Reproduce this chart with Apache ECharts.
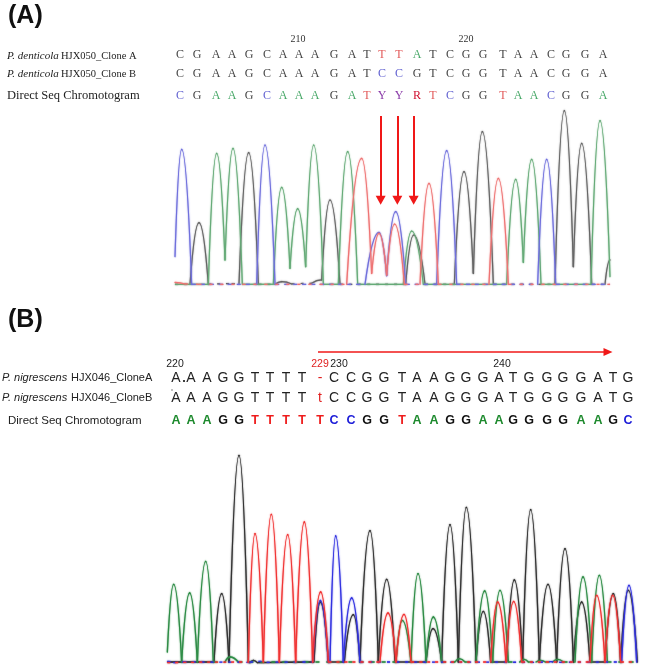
<!DOCTYPE html>
<html><head><meta charset="utf-8">
<style>html,body{margin:0;padding:0;background:#fff}#c{width:651px;height:665px}</style>
<script src="https://cdn.jsdelivr.net/npm/echarts@6/dist/echarts.min.js"></script>
</head><body><div id="c"></div>
<script>
// Panel A traces: [scan, signal] feet and crests
var blueA=[[30,83],[50,405],[80,0],[275,0],[300,418],[330,0],[600,0],[642,156],[665,26],[692,218],[722,0],[815,0],[845,401],[875,0],[1118,0],[1145,375],[1172,0],[1335,0]];
var blackA=[[30,0],[75,0],[102,185],[130,0],[200,2],[222,0],[251,395],[280,0],[330,0],[350,8],[380,1],[440,3],[470,13],[495,253],[525,0],[722,0],[746,148],[780,0],[868,0],[897,338],[925,33],[952,458],[985,0],[1170,0],[1198,521],[1225,53],[1250,423],[1280,0],[1320,0],[1335,73]];
var redA=[[30,6],[60,1],[100,0],[545,0],[590,378],[620,33],[642,153],[665,28],[689,181],[718,0],[765,0],[792,303],[820,0],[972,0],[1000,318],[1030,0],[1335,0]];
var greenA=[[30,0],[130,0],[155,393],[180,73],[204,408],[232,0],[325,0],[350,291],[375,48],[398,227],[422,53],[446,418],[475,0],[520,0],[548,398],[578,0],[715,0],[740,160],[775,0],[1025,0],[1052,315],[1075,66],[1100,375],[1128,0],[1278,0],[1305,491],[1335,23]];
// Panel B traces: [scan, signal]
var greenB=[[22,33],[41,236],[65,3],[89,210],[112,3],[137,305],[160,3],[195,3],[210,18],[235,3],[708,3],[727,128],[753,3],[774,268],[798,3],[820,138],[845,3],[885,3],[898,13],[915,3],[948,3],[974,216],[998,3],[1020,218],[1045,3],[1080,3],[1092,11],[1105,3],[1128,3],[1142,8],[1156,3],[1178,3],[1193,11],[1210,3],[1245,3],[1269,258],[1295,3],[1318,263],[1342,3],[1430,3]];
var blackB=[[22,3],[162,3],[185,208],[207,3],[237,623],[265,3],[270,1],[280,8],[292,1],[462,3],[481,183],[505,3],[553,3],[580,145],[600,3],[630,397],[655,3],[680,251],[705,3],[798,3],[819,103],[845,3],[870,415],[895,3],[919,467],[948,3],[970,155],[992,3],[1040,3],[1063,249],[1088,3],[1112,460],[1138,3],[1164,236],[1190,3],[1215,343],[1240,3],[1265,183],[1290,3],[1335,3],[1360,208],[1382,3],[1405,218],[1432,3]];
var redB=[[22,1],[265,3],[285,388],[310,3],[334,446],[358,3],[383,385],[407,3],[433,423],[458,3],[482,213],[505,3],[660,3],[684,150],[708,3],[732,146],[753,3],[992,3],[1013,183],[1038,3],[1061,185],[1085,3],[1290,3],[1310,203],[1335,3],[1358,203],[1382,3],[1430,3]];
var blueB=[[22,5],[40,1],[70,3],[270,2],[295,5],[320,2],[458,3],[481,188],[505,3],[510,3],[527,381],[550,3],[575,195],[600,3],[1140,2],[1170,4],[1200,2],[1385,3],[1407,233],[1430,3]];
// Sequence text
var seqA1='CGAAGCAAAGATTTATCGGTAACGGA';
var seqA2='CGAAGCAAAGATCCGTCGGTAACGGA';
var seqA3='CGAAGCAAAGATYYRTCGGTAACGGA';
var seqB1='AAAGGTTTT-CCGGTAAGGGATGGGGATG';
var seqB2='AAAGGTTTTtCCGGTAAGGGATGGGGATG';
var seqB3='AAAGGTTTTTCCGGTAAGGAAGGGGAAGC';
var labelsA=['HJX050_Clone A','HJX050_Clone B','Direct Seq Chromotogram'];
var labelsB=['HJX046_CloneA','HJX046_CloneB','Direct Seq Chromotogram'];
// Layout of the text
var xsA=[180,197,216,232,249,267,283,299,315,334,352,367,382,399,417,433,450,466,483,503,518,534,551,566,585,603];
var xsB=[176,191,207,223,239,255,270,286,302,320,334,351,367,384,402,417,434,450,466,483,499,513,529,547,563,581,598,613,628];
var colA={C:'#5f5fd0',G:'#444',A:'#48a868',T:'#e25a5a',Y:'#8a3aa8',R:'#d01030'};
var colB={A:'#1e8a2e',G:'#111',T:'#ee1c1c',C:'#1c1cd8'};
var g=[];
function t(x,y,s,f,c,extra){var st={x:x,y:y,text:s,font:f,fill:c,textAlign:'left',textVerticalAlign:'middle'};
  if(extra)for(var k in extra)st[k]=extra[k];g.push({type:'text',silent:true,z:10,style:st});}
function row(seq,xs,y,font,colorFn){for(var i=0;i<seq.length;i++){t(xs[i],y,seq[i],font,colorFn(seq[i],i),{textAlign:'center'});}}
var sA='12px "Liberation Serif"',sB='14px "Liberation Sans"';
t(8,16,'(A)','bold 25px "Liberation Sans"','#111');
t(8,320,'(B)','bold 25px "Liberation Sans"','#111');
t(298,39,'210','10px "Liberation Serif"','#333',{textAlign:'center'});
t(466,39,'220','10px "Liberation Serif"','#333',{textAlign:'center'});
t(7,56,'P. denticola','italic 11px "Liberation Serif"','#222');
t(61,56,labelsA[0],'10.5px "Liberation Serif"','#222');
t(7,74,'P. denticola','italic 11px "Liberation Serif"','#222');
t(61,74,labelsA[1],'10.5px "Liberation Serif"','#222');
t(7,96,labelsA[2],'12.5px "Liberation Serif"','#222');
row(seqA1,xsA,55,sA,function(c,i){return i==12||i==13?'#e25a5a':i==14?'#48a868':'#444';});
row(seqA2,xsA,74,sA,function(c,i){return i==12||i==13?'#5f5fd0':'#444';});
row(seqA3,xsA,96,sA,function(c,i){return colA[c];});
t(175,364,'220','10.5px "Liberation Sans"','#222',{textAlign:'center'});
t(320,364,'229','10.5px "Liberation Sans"','#e02020',{textAlign:'center'});
t(339,364,'230','10.5px "Liberation Sans"','#222',{textAlign:'center'});
t(502,364,'240','10.5px "Liberation Sans"','#222',{textAlign:'center'});
t(2,378,'P. nigrescens','italic 11px "Liberation Sans"','#222');
t(71,378,labelsB[0],'11px "Liberation Sans"','#222');
t(2,398,'P. nigrescens','italic 11px "Liberation Sans"','#222');
t(71,398,labelsB[1],'11px "Liberation Sans"','#222');
t(8,421,labelsB[2],'11.5px "Liberation Sans"','#222');
row(seqB1,xsB,378,sB,function(c,i){return i==9?'#e02020':'#222';});
row(seqB2,xsB,398,sB,function(c,i){return i==9?'#e02020':'#222';});
row(seqB3,xsB,421,'bold 12.5px "Liberation Sans"',function(c){return colB[c];});
g.push({type:'circle',silent:true,z:10,shape:{cx:184,cy:381,r:1.1},style:{fill:'#111'}});
g.push({type:'circle',silent:true,z:10,shape:{cx:172,cy:390,r:0.7},style:{fill:'#555'}});

// One trace: each data item draws the bell flank from the previous point to itself
function tr(data,color,gi,width,dash){
 return {type:'custom',xAxisIndex:gi,yAxisIndex:gi,data:data,silent:true,clip:false,z:3,
  encode:{x:0,y:1},
  renderItem:function(params,api){
   var i=params.dataIndex; if(i===0)return null;
   var p0=api.coord(data[i-1]),p1=api.coord([api.value(0),api.value(1)]);
   var dx=p1[0]-p0[0],dy=p1[1]-p0[1],rising=dy<0,c1,c2;
   var flat=Math.abs(dy)<1.5;
   if(rising){c1=[p0[0]+0.28*dx,p0[1]+0.55*dy];c2=[p1[0]-0.4*dx,p1[1]];}
   else{c1=[p0[0]+0.4*dx,p0[1]];c2=[p1[0]-0.28*dx,p1[1]-0.55*dy];}
   return {type:'bezierCurve',silent:true,
     shape:{x1:p0[0],y1:p0[1],x2:p1[0],y2:p1[1],cpx1:c1[0],cpy1:c1[1],cpx2:c2[0],cpy2:c2[1]},
     style:{stroke:color,lineWidth:width,fill:null,lineCap:flat?'butt':'round',lineDash:flat&&dash?dash:null,shadowBlur:1.5,shadowColor:color}};
  }};
}
function arrow(x,top,tip){return [{coord:[x,top],symbol:'none'},{coord:[x,tip],symbol:'triangle',symbolSize:[10,9]}];}
var chart=echarts.init(document.getElementById('c'),null,{renderer:'canvas'});
chart.setOption({animation:false,backgroundColor:'#fff',
 grid:[{left:165,top:100,width:450,height:184.3,show:false},{left:160,top:445,width:490,height:218,show:false}],
 xAxis:[{gridIndex:0,type:'value',min:0,max:1350,show:false},{gridIndex:1,type:'value',min:0,max:1470,show:false}],
 yAxis:[{gridIndex:0,type:'value',min:0,max:553,show:false},{gridIndex:1,type:'value',min:0,max:654,show:false}],
 graphic:g,
 series:[
  tr(blackA,'#666',0,1.2,[3,6]),tr(greenA,'#66ab78',0,1.2),tr(blueA,'#7070dc',0,1.2,[4,5]),
  tr(redA,'#ee7474',0,1.2,[3,8]),
  {type:'line',xAxisIndex:0,yAxisIndex:0,data:[],symbol:'none',silent:true,z:5,markLine:{silent:true,animation:false,label:{show:false},lineStyle:{color:'#f01818',width:2,type:'solid',opacity:1},
    data:[arrow(647,505,252),arrow(697,505,252),arrow(746,505,252)]}},
  tr(blackB,'#333',1,1.3),tr(greenB,'#2e8c46',1,1.3,[4,7]),tr(blueB,'#3232e0',1,1.3,[3,6]),
  tr(redB,'#f03434',1,1.3,[3,5]),
  {type:'line',xAxisIndex:1,yAxisIndex:1,data:[],symbol:'none',silent:true,z:5,markLine:{silent:true,animation:false,label:{show:false},lineStyle:{color:'#f01818',width:1.5,type:'solid',opacity:1},
    data:[[{x:318,y:352,symbol:'none'},{x:608,y:352,symbol:'triangle',symbolSize:[8,9]}]]}}
 ]});
</script></body></html>
